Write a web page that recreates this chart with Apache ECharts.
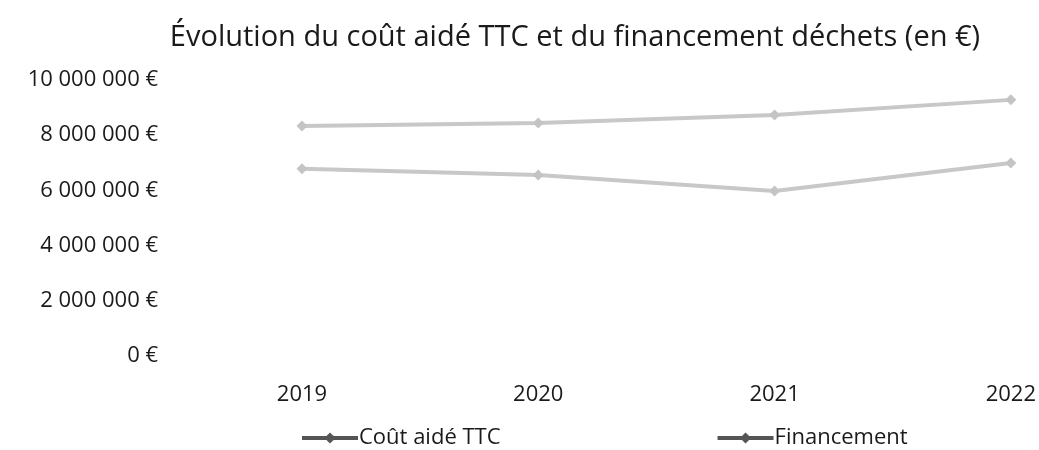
<!DOCTYPE html>
<html>
<head>
<meta charset="utf-8">
<script src="https://cdn.jsdelivr.net/npm/echarts@6/dist/echarts.min.js"></script>
<style>
  html, body { margin: 0; padding: 0; background: #fff; }
  #chart { width: 1039px; height: 450px; }
</style>
</head>
<body>
<div id="chart"></div>
<script>
var years = ['2019', '2020', '2021', '2022'];
var coutAide = [8330000, 8440000, 8730000, 9280000];
var financement = [6780000, 6560000, 5980000, 6990000];
var yTicks = [0, 2000000, 4000000, 6000000, 8000000, 10000000];

var font = '"Open Sans", "Noto Sans", sans-serif';

function euro(v) {
    return String(v).replace(/\B(?=(\d{3})+(?!\d))/g, ' ') + ' €';
}

var myChart = echarts.init(document.getElementById('chart'));
var option = {
    backgroundColor: '#fff',
    title: {
        text: 'Évolution du coût aidé TTC et du financement déchets (en €)',
        left: 570,
        textAlign: 'center',
        top: 18,
        textStyle: {
            fontFamily: font,
            fontSize: 29,
            fontWeight: 'normal',
            color: '#1a1a1a'
        }
    },
    legend: {
        left: 295,
        top: 422,
        itemGap: 215,
        itemWidth: 56,
        itemHeight: 14,
        textStyle: { fontFamily: font, fontSize: 22, color: '#1a1a1a', padding: [0, 0, 0, -4] },
        itemStyle: { color: '#555' },
        lineStyle: { color: '#555', width: 4 },
        data: ['Coût aidé TTC', 'Financement']
    },
    grid: {
        left: 302,
        right: 27,
        top: 80,
        bottom: 94
    },
    xAxis: {
        type: 'category',
        data: years,
        boundaryGap: false,
        axisLine: { show: false },
        axisTick: { show: false },
        axisLabel: {
            margin: 28,
            fontFamily: font,
            fontSize: 22,
            color: '#1a1a1a'
        }
    },
    yAxis: {
        type: 'value',
        min: yTicks[0],
        max: yTicks[yTicks.length - 1],
        interval: 2000000,
        splitLine: { show: false },
        axisLine: { show: false },
        axisTick: { show: false },
        axisLabel: {
            margin: 144,
            fontFamily: font,
            fontSize: 22,
            color: '#1a1a1a',
            formatter: euro
        }
    },
    series: [
        {
            name: 'Coût aidé TTC',
            type: 'line',
            data: coutAide,
            symbol: 'diamond',
            symbolSize: 11,
            lineStyle: { color: '#c8c8c8', width: 4 },
            itemStyle: { color: '#c4c4c4' }
        },
        {
            name: 'Financement',
            type: 'line',
            data: financement,
            symbol: 'diamond',
            symbolSize: 11,
            lineStyle: { color: '#c8c8c8', width: 4 },
            itemStyle: { color: '#c4c4c4' }
        }
    ]
};
myChart.setOption(option);
</script>
</body>
</html>
